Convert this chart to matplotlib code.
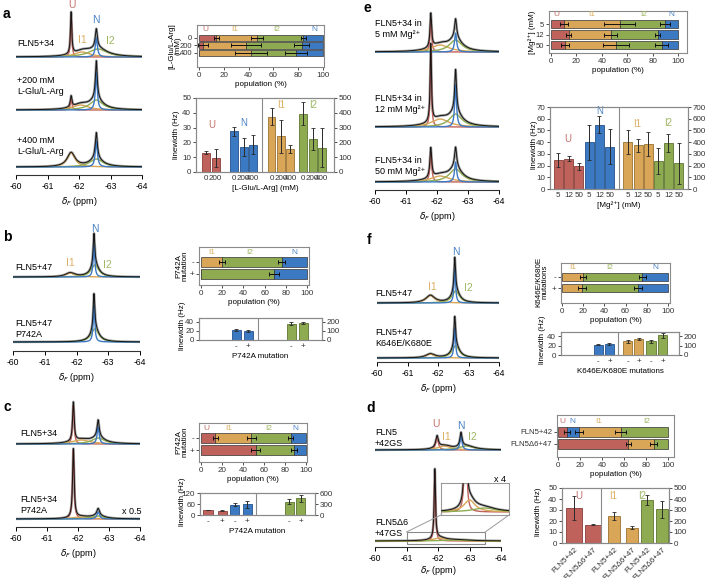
import numpy as np
import matplotlib.pyplot as plt
from matplotlib.patches import Rectangle, ConnectionPatch

plt.rcParams['font.family'] = ['Liberation Sans', 'DejaVu Sans']
plt.rcParams['font.size'] = 5.8
plt.rcParams['axes.unicode_minus'] = False
plt.rcParams['mathtext.fontset'] = 'dejavusans'

# colours of the four states (fill / label text)
colors = {'U': '#c0625c', 'I1': '#d9a657', 'I2': '#8fab52', 'N': '#3c79c3'}
text_colors = {'U': '#c4716b', 'I1': '#dcae62', 'I2': '#9cb662', 'N': '#4a82c6'}
edge_colors = {'U': '#8a3d38', 'I1': '#9a7230', 'I2': '#5d7530', 'N': '#25528c'}

# ---- 19F spectra: state -> (centre ppm, FWHM ppm, height) ----
a_spectra = [
    {'U': (-61.75, 0.05, 42), 'I1': (-62.1, 0.6, 5), 'I2': (-62.6, 0.7, 8), 'N': (-62.55, 0.08, 19)},
    {'U': (-61.75, 0.06, 11), 'I1': (-62.05, 0.6, 5), 'I2': (-62.55, 0.5, 10), 'N': (-62.55, 0.07, 38)},
    {'I1': (-61.75, 0.3, 14), 'I2': (-62.55, 0.5, 8), 'N': (-62.55, 0.08, 26)},
]
b_spectra = [
    {'I1': (-61.8, 0.35, 4), 'I2': (-62.58, 0.3, 12), 'N': (-62.55, 0.06, 32)},
    {'I2': (-62.58, 0.3, 13), 'N': (-62.55, 0.06, 36)},
]
c_spectra = [
    {'U': (-61.85, 0.06, 39), 'I1': (-62.1, 0.7, 4), 'I2': (-62.65, 0.5, 6), 'N': (-62.65, 0.08, 17)},
    {'U': (-61.85, 0.06, 69), 'I1': (-62.1, 0.7, 2), 'I2': (-62.65, 0.5, 3), 'N': (-62.65, 0.1, 7)},
]
e_spectra = [
    {'U': (-61.8, 0.06, 34), 'I1': (-62.1, 0.7, 7), 'I2': (-62.6, 0.5, 12), 'N': (-62.6, 0.08, 19)},
    {'U': (-61.8, 0.05, 78), 'I1': (-62.1, 0.7, 8), 'I2': (-62.6, 0.5, 13), 'N': (-62.6, 0.07, 42)},
    {'U': (-61.8, 0.07, 30), 'I1': (-62.1, 0.7, 6), 'I2': (-62.6, 0.5, 13), 'N': (-62.6, 0.08, 20)},
]
f_spectra = [
    {'I1': (-61.75, 0.35, 7.5), 'I2': (-62.58, 0.3, 12), 'N': (-62.55, 0.06, 34)},
    {'I1': (-61.75, 0.35, 4), 'I2': (-62.58, 0.3, 12), 'N': (-62.55, 0.06, 30)},
]
d_spectra = [
    {'U': (-61.97, 0.1, 12), 'I1': (-62.2, 0.5, 4), 'I2': (-62.9, 0.6, 4), 'N': (-62.73, 0.08, 14)},
    {'U': (-61.9, 0.05, 70), 'I1': (-62.05, 0.5, 3), 'I2': (-62.6, 1.0, 1)},
]

# ---- populations (%) per state, errors at the right edge of each segment ----
a_pop_rows = ['0', '200', '400']
a_pop = {'U': [14, 3, 0], 'I1': [33, 35, 42], 'I2': [37, 45, 36], 'N': [16, 17, 22]}
a_pop_err = {'U': [2, 4, 0], 'I1': [5, 12, 13], 'I2': [2, 6, 9]}

b_pop_rows = ['-', '+']
b_pop = {'I1': [20, 0], 'I2': [56, 69], 'N': [24, 31]}
b_pop_err = {'I1': [3, 0], 'I2': [3, 5]}

c_pop_rows = ['-', '+']
c_pop = {'U': [14, 52], 'I1': [34, 0], 'I2': [37, 36], 'N': [15, 12]}
c_pop_err = {'U': [2, 4], 'I1': [4, 0], 'I2': [2, 3]}

e_pop_rows = ['5', '12', '50']
e_pop = {'U': [10, 14, 11], 'I1': [44, 33, 40], 'I2': [36, 37, 36], 'N': [10, 16, 13]}
e_pop_err = {'U': [3, 2, 3], 'I1': [12, 5, 10], 'I2': [4, 2, 5]}

f_pop_rows = ['-', '+']
f_pop = {'I1': [20, 19], 'I2': [56, 53], 'N': [24, 28]}
f_pop_err = {'I1': [3, 4], 'I2': [3, 4]}

d_pop_rows = ['FLN5+42', 'FLN5Δ6+47']
d_pop = {'U': [8, 64], 'N': [11, 0], 'I1': [38, 23], 'I2': [43, 13]}
d_pop_err = {'U': [3, 2], 'N': [4, 0], 'I1': [5, 3]}

# ---- linewidths (Hz); U, N on the left axis, I1, I2 on the right axis ----
a_lw = {'U': [13, 9.5], 'N': [27.5, 17, 18.5], 'I1': [375, 240, 155], 'I2': [395, 225, 165]}
a_lw_err = {'U': [1, 6], 'N': [3, 6, 6.5], 'I1': [55, 110, 25], 'I2': [75, 75, 130]}
a_lw_ticks = {'U': ['0', '200'], 'N': ['0', '200', '400'], 'I1': ['0', '200', '400'], 'I2': ['0', '200', '400']}

b_lw = {'N': [22, 20], 'I2': [178, 185]}
b_lw_err = {'N': [1.5, 1.5], 'I2': [15, 10]}
b_lw_ticks = {'N': ['-', '+'], 'I2': ['-', '+']}

c_lw = {'U': [27, 24], 'N': [58, 60], 'I2': [370, 465]}
c_lw_err = {'U': [2, 1], 'N': [8, 20], 'I2': [60, 100]}
c_lw_ticks = {'U': ['-', '+'], 'N': ['-', '+'], 'I2': ['-', '+']}

e_lw = {'U': [25, 26, 19.5], 'N': [40, 55, 36], 'I1': [400, 375, 385], 'I2': [240, 395, 220]}
e_lw_err = {'U': [6, 2, 3], 'N': [15, 7, 15], 'I1': [100, 55, 105], 'I2': [110, 75, 175]}
e_lw_ticks = {'U': ['5', '12', '50'], 'N': ['5', '12', '50'], 'I1': ['5', '12', '50'], 'I2': ['5', '12', '50']}

f_lw = {'N': [22, 24], 'I1': [145, 170], 'I2': [145, 208]}
f_lw_err = {'N': [1.5, 2], 'I1': [12, 15], 'I2': [20, 25]}
f_lw_ticks = {'N': ['-', '+'], 'I1': ['-', '+'], 'I2': ['-', '+']}

d_lw = {'U': [32, 16.7], 'I1': [245, 140], 'I2': [395, 305]}
d_lw_err = {'U': [11, 0.4], 'I1': [35, 15], 'I2': [45, 75]}
d_lw_ticks = {'U': ['FLN5+42', 'FLN5Δ6+47'], 'I1': ['FLN5+42', 'FLN5Δ6+47'], 'I2': ['FLN5+42', 'FLN5Δ6+47']}


W, H = 706, 578
fig = plt.figure(figsize=(W / 100, H / 100), dpi=100)
ppm = np.linspace(-60, -64, 1200)

SPEC_FS = 6.5   # sample names next to spectra
STATE_FS = 7.5  # U / I1 / I2 / N labels


def box(x0, y0, x1, y1):
    # axes from pixel corners (top-left origin)
    return fig.add_axes([x0 / W, 1 - y1 / H, (x1 - x0) / W, (y1 - y0) / H])


def ptext(x, y, s, **kw):
    kw.setdefault('va', 'center')
    fig.text(x / W, 1 - y / H, s, **kw)


def lor(x, c, w, h):
    return h / (1 + ((x - c) / (w / 2)) ** 2)


def draw_one(ax, comps, base):
    total = np.full_like(ppm, float(base))
    for s, (c, w, h) in comps.items():
        curve = lor(ppm, c, w, h)
        total += curve
        ax.plot(ppm, base + curve, color=colors[s], lw=1.0, zorder=2)
    ax.plot(ppm, total, color='#a0a0a0', lw=1.8, zorder=1)
    ax.plot(ppm, total, color='#151515', lw=0.7, zorder=3)


def spectra_panel(x0, x1, top, axis_y, spectra, bases, labelpad=3):
    ax = box(x0, top, x1, axis_y)
    ax.patch.set_alpha(0)
    ax.set_xlim(-60, -64)
    ax.set_ylim(0, axis_y - top)
    for comps, base in zip(spectra, bases):
        draw_one(ax, comps, base)
    for sp in ['left', 'right', 'top']:
        ax.spines[sp].set_visible(False)
    ax.spines['bottom'].set_color('#333')
    ax.set_yticks([])
    ax.set_xticks([-60, -61, -62, -63, -64])
    ax.set_xticklabels(['-60', '-61', '-62', '-63', '-64'], fontsize=6.2)
    ax.tick_params(axis='x', length=3, width=0.7, pad=2)
    ax.set_xlabel(r'$\delta_F$ (ppm)', fontsize=6.5, labelpad=labelpad)
    return ax


def pop_panel(rect, rows, vals, errs, xlim, pads, bar_h, label_x, label_y, ytick_fs=5.8):
    ax = box(*rect)
    y = np.arange(len(rows))
    left = np.zeros(len(rows))
    for s, v in vals.items():
        v = np.array(v, float)
        ax.barh(y, v, left=left, height=bar_h, color=colors[s], edgecolor='#333', linewidth=0.5)
        left = left + v
        if s in errs:
            e = np.array(errs[s], float)
            m = e > 0
            ax.errorbar(left[m], y[m], xerr=e[m], fmt='none', ecolor='#111',
                        elinewidth=0.7, capsize=1.5, capthick=0.7)
    for s, lx in label_x.items():
        ax.text(lx, label_y, s, color=text_colors[s], ha='center', va='center', fontsize=6)
    ax.set_xlim(*xlim)
    ax.set_ylim(len(rows) - 1 + pads[1], -pads[0])
    ax.set_yticks(y)
    ax.set_yticklabels(rows, fontsize=ytick_fs)
    ax.set_xticks([0, 20, 40, 60, 80, 100])
    ax.tick_params(length=2, width=0.6, pad=1.5, colors='#333')
    for sp in ax.spines.values():
        sp.set_color('#8a8a8a')
    ax.set_xlabel('population (%)', fontsize=5.8, labelpad=1.5)
    return ax


def lw_panel(rect, pos, vals, errs, ticks, widths, ylim, rscale, lticks, rticks,
             divider, xlim, xlabel=None, rot=0, xtick_fs=5.8):
    ax = box(*rect)
    axr = ax.twinx()
    xt, xl = [], []
    for s, v in vals.items():
        target = ax if s in ('U', 'N') else axr
        w = widths[s] if isinstance(widths, dict) else widths
        target.bar(pos[s], v, width=w, yerr=errs[s], color=colors[s],
                   edgecolor=edge_colors[s], linewidth=0.6,
                   error_kw=dict(lw=0.7, capsize=1.2, capthick=0.6, ecolor='#2a2a2a'))
        xt += list(pos[s])
        xl += ticks[s]
    ax.axvline(divider, color='#8a8a8a', lw=0.8)
    ax.set_xlim(*xlim)
    ax.set_ylim(*ylim)
    axr.set_ylim(ylim[0] * rscale, ylim[1] * rscale)
    ax.set_yticks(lticks)
    axr.set_yticks(rticks)
    ax.set_xticks(xt)
    if rot:
        ax.set_xticklabels(xl, rotation=rot, ha='right', rotation_mode='anchor', fontsize=5.5)
    else:
        ax.set_xticklabels(xl, fontsize=xtick_fs)
    for a in (ax, axr):
        a.tick_params(length=2, width=0.6, pad=1.5, colors='#333', labelsize=5.8)
        for sp in a.spines.values():
            sp.set_color('#8a8a8a')
    ax.tick_params(axis='x', length=0, pad=2)
    if xlabel:
        ax.set_xlabel(xlabel, fontsize=5.8, labelpad=2)
    return ax


def state_label(x, y, s):
    ptext(x, y, s, color=text_colors[s], fontsize=STATE_FS, ha='center')


# ================= panel a =================
ptext(3, 14, 'a', fontsize=10, fontweight='bold')
spectra_panel(16, 142, 0, 175, a_spectra, [118, 65, 8])
ptext(17, 43, 'FLN5+34', fontsize=SPEC_FS)
ptext(17, 86, '+200 mM\nL-Glu/L-Arg', fontsize=SPEC_FS, linespacing=1.25)
ptext(17, 146, '+400 mM\nL-Glu/L-Arg', fontsize=SPEC_FS, linespacing=1.25)
state_label(72, 5, 'U')
state_label(96, 20, 'N')
state_label(82, 40, 'I1')
state_label(110, 41, 'I2')

pop_panel((197, 25, 324, 67), a_pop_rows, a_pop, a_pop_err, (-1.6, 100.8), (1.73, 1.87), 0.82,
          {'U': 5, 'I1': 29, 'I2': 63, 'N': 93}, -1.07, ytick_fs=5.5)
ptext(175, 46, '[L-Glu/L-Arg]\n(mM)', rotation=90, ha='center', fontsize=5.8, linespacing=1.0)

ax = lw_panel((196, 98, 334, 172), {'U': [0, 1], 'N': [3, 4, 5], 'I1': [7, 8, 9], 'I2': [10.4, 11.4, 12.4]},
              a_lw, a_lw_err, a_lw_ticks, 0.85, (0, 50), 10, range(0, 51, 10), range(0, 501, 100),
              6, (-1.1, 13.7), '[L-Glu/L-Arg] (mM)', xtick_fs=5.3)
ax.text(0.6, 30, 'U', color=text_colors['U'], ha='center', fontsize=7)
ax.text(4.05, 31, 'N', color=text_colors['N'], ha='center', fontsize=7)
ax.text(8.0, 43, 'I1', color=text_colors['I1'], ha='center', fontsize=7)
ax.text(11.5, 43, 'I2', color=text_colors['I2'], ha='center', fontsize=7)
ptext(176, 135, 'linewidth (Hz)', rotation=90, ha='center', fontsize=5.8)

# ================= panel b =================
ptext(3, 237, 'b', fontsize=10, fontweight='bold')
spectra_panel(13, 140, 225, 351, b_spectra, [74, 9])
ptext(15, 268, 'FLN5+47', fontsize=SPEC_FS)
ptext(15, 329, 'FLN5+47\nP742A', fontsize=SPEC_FS, linespacing=1.35)
state_label(95, 229, 'N')
state_label(70, 263, 'I1')
state_label(107, 265, 'I2')

pop_panel((199, 247, 309, 285), b_pop_rows, b_pop, b_pop_err, (-1.9, 101.9), (1.25, 0.92), 0.78,
          {'I1': 10, 'I2': 46, 'N': 88}, -0.83)
ptext(182, 266, 'P742A\nmutation', rotation=90, ha='center', fontsize=5.8, linespacing=1.0)

lw_panel((199, 318, 322, 340), {'N': [3.1, 4.1], 'I2': [7.7, 8.7]}, b_lw, b_lw_err, b_lw_ticks,
         0.78, (0, 48), 5, [0, 20, 40], [0, 100, 200], 4.9, (0, 10.25), 'P742A mutation')
ptext(182, 326, 'linewidth (Hz)', rotation=90, ha='center', fontsize=5.8)

# ================= panel c =================
ptext(3, 407, 'c', fontsize=10, fontweight='bold')
spectra_panel(16, 140, 395, 527, c_spectra, [83, 8])
ptext(20, 433, 'FLN5+34', fontsize=SPEC_FS)
ptext(20, 505, 'FLN5+34\nP742A', fontsize=SPEC_FS, linespacing=1.35)
ptext(122, 511, 'x 0.5', fontsize=SPEC_FS)

pop_panel((199, 423, 307, 462), c_pop_rows, c_pop, c_pop_err, (-1.5, 100.5), (1.25, 1.0), 0.78,
          {'U': 5, 'I1': 27, 'I2': 64, 'N': 89}, -0.83)
ptext(182, 442, 'P742A\nmutation', rotation=90, ha='center', fontsize=5.8, linespacing=1.0)

lw_panel((200, 493, 315, 515), {'U': [0.7, 1.95], 'N': [3.05, 4.15], 'I2': [7.85, 8.85]}, c_lw, c_lw_err,
         c_lw_ticks, 0.8, (0, 122), 5, [0, 60, 120], [0, 300, 600], 4.9, (0, 10.1), 'P742A mutation')
ptext(182, 502, 'linewidth (Hz)', rotation=90, ha='center', fontsize=5.8)

# ================= panel e =================
ptext(363, 8, 'e', fontsize=10, fontweight='bold')
spectra_panel(375, 499, 0, 190, e_spectra, [138, 63, 8])
ptext(375, 29, 'FLN5+34 in\n5 mM Mg²⁺', fontsize=SPEC_FS, linespacing=1.35)
ptext(375, 104, 'FLN5+34 in\n12 mM Mg²⁺', fontsize=SPEC_FS, linespacing=1.35)
ptext(375, 166, 'FLN5+34 in\n50 mM Mg²⁺', fontsize=SPEC_FS, linespacing=1.35)

pop_panel((549, 11, 687, 53), e_pop_rows, e_pop, e_pop_err, (-1.6, 107), (1.24, 0.76), 0.8,
          {'U': 4.5, 'I1': 32, 'I2': 73, 'N': 95}, -0.86, ytick_fs=5.5)
ptext(532, 32, '[Mg²⁺] (mM)', rotation=90, ha='center', fontsize=5.8)

ax = lw_panel((550, 107, 688, 189), {'U': [0.8, 1.8, 2.8], 'N': [3.8, 4.8, 5.8],
                                     'I1': [7.55, 8.55, 9.55], 'I2': [10.5, 11.5, 12.5]},
              e_lw, e_lw_err, e_lw_ticks, 0.88, (0, 70), 10, range(0, 71, 10), range(0, 701, 100),
              6.7, (0, 13.4), '[Mg²⁺] (mM)')
ax.text(1.75, 40, 'U', color=text_colors['U'], ha='center', fontsize=7)
ax.text(4.85, 64, 'N', color=text_colors['N'], ha='center', fontsize=7)
ax.text(8.45, 53, 'I1', color=text_colors['I1'], ha='center', fontsize=7)
ax.text(11.45, 54, 'I2', color=text_colors['I2'], ha='center', fontsize=7)
ptext(534, 145, 'linewidth (Hz)', rotation=90, ha='center', fontsize=5.8)

# ================= panel f =================
ptext(367, 240, 'f', fontsize=10, fontweight='bold')
spectra_panel(377, 499, 245, 362, f_spectra, [59, 4])
ptext(375, 293, 'FLN5+47', fontsize=SPEC_FS)
ptext(375, 338, 'FLN5+47\nK646E/K680E', fontsize=SPEC_FS, linespacing=1.35)
state_label(456, 252, 'N')
state_label(432, 287, 'I1')
state_label(468, 288, 'I2')

pop_panel((561, 263, 670, 303), f_pop_rows, f_pop, f_pop_err, (-1, 102), (1.27, 1.36), 0.78,
          {'I1': 10, 'I2': 45, 'N': 88}, -0.9)
ptext(542, 282, 'K646E/K680E\nmutations', rotation=90, ha='center', fontsize=5.8, linespacing=1.0)

lw_panel((561, 332, 679, 355), {'N': [3.2, 4.15], 'I1': [5.7, 6.65], 'I2': [7.7, 8.7]}, f_lw, f_lw_err,
         f_lw_ticks, 0.8, (0, 49), 5, [0, 20, 40], [0, 100, 200], 4.9, (0, 10.1), 'K646E/K680E mutations')
ptext(543, 340, 'linewidth (Hz)', rotation=90, ha='center', fontsize=5.8)

# ================= panel d =================
ptext(366, 408, 'd', fontsize=10, fontweight='bold')
axd = spectra_panel(375, 501, 405, 547, d_spectra, [97, 6], labelpad=1)
ptext(375, 438, 'FLN5\n+42GS', fontsize=SPEC_FS, linespacing=1.35)
ptext(375, 528, 'FLN5Δ6\n+47GS', fontsize=SPEC_FS, linespacing=1.35)
state_label(436, 424, 'U')
state_label(446, 437, 'I1')
state_label(461, 426, 'N')
state_label(472, 437, 'I2')

# zoomed inset (x 4) of the lower spectrum
axd.add_patch(Rectangle((-61, 3), -2.5, 12, fill=False, ec='#8a8a8a', lw=0.8))
ins = box(441, 483, 509, 515)
ins.set_xlim(-61, -63.5)
ins.set_ylim(5.25, 13.25)
draw_one(ins, d_spectra[1], 6)
ins.set_xticks([])
ins.set_yticks([])
for sp in ins.spines.values():
    sp.set_color('#9a9a9a')
for xa, xb in [(-61, 0), (-63.5, 1)]:
    fig.add_artist(ConnectionPatch(xyA=(xa, 15), coordsA='data', axesA=axd,
                                   xyB=(xb, 0), coordsB='axes fraction', axesB=ins,
                                   color='#9a9a9a', lw=0.7))
ptext(500, 479, 'x 4', fontsize=SPEC_FS, ha='center')

pop_panel((557, 415, 674, 457), d_pop_rows, d_pop, d_pop_err, (-1, 105.5), (1.4, 1.08), 0.8,
          {'U': 4, 'N': 13, 'I1': 37, 'I2': 81}, -0.9, ytick_fs=5.6)

ax = lw_panel((562, 488, 669, 543), {'U': [1.2, 3.1], 'I1': [5.2, 7.0], 'I2': [8.5, 10.0]}, d_lw, d_lw_err,
              d_lw_ticks, {'U': 1.6, 'I1': 1.2, 'I2': 1.2}, (0, 50), 10, range(0, 51, 10),
              range(0, 501, 100), 3.9, (0, 10.7), rot=45)
ax.text(1.7, 40, 'U', color=text_colors['U'], ha='center', fontsize=7)
ax.text(5.1, 40, 'I1', color=text_colors['I1'], ha='center', fontsize=7)
ax.text(8.0, 40, 'I2', color=text_colors['I2'], ha='center', fontsize=7)
ptext(538, 512, 'linewidth (Hz)', rotation=90, ha='center', fontsize=5.8)

fig.savefig('out.png', dpi=100)
